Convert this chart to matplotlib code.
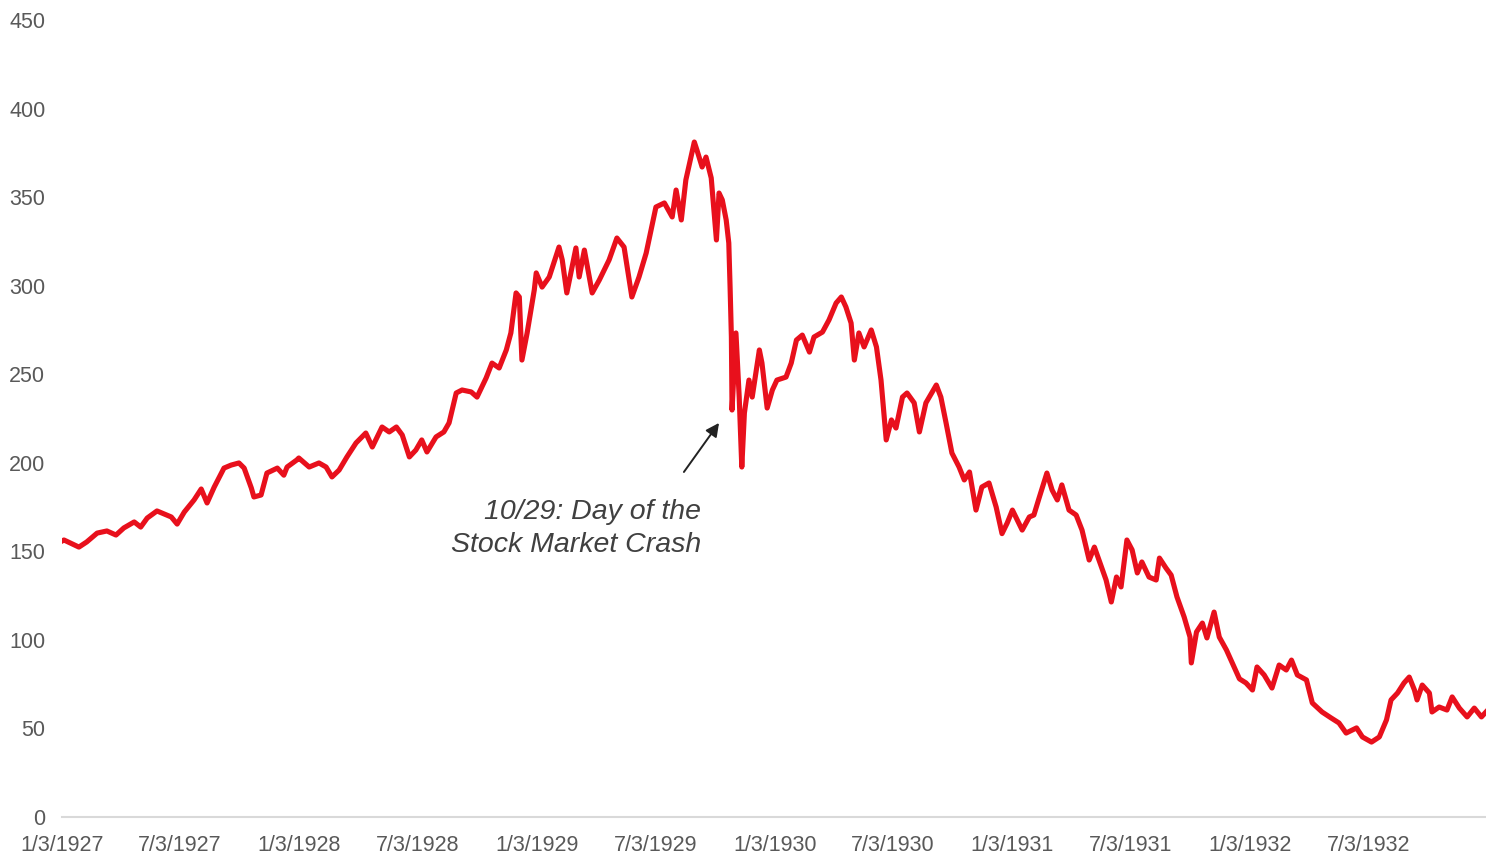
import matplotlib
matplotlib.use("Agg")
import matplotlib.pyplot as plt
import pandas as pd

dates = [
    "1927-01-03", "1927-01-06", "1927-01-29", "1927-02-10", "1927-02-26", "1927-03-13", "1927-03-27",
    "1927-04-08", "1927-04-24", "1927-05-04", "1927-05-14", "1927-05-29", "1927-06-20", "1927-06-29",
    "1927-07-10", "1927-07-25", "1927-08-05", "1927-08-14", "1927-08-25", "1927-09-09", "1927-09-20",
    "1927-10-02", "1927-10-10", "1927-10-21", "1927-10-25", "1927-11-05", "1927-11-14", "1927-11-30",
    "1927-12-10", "1927-12-15", "1927-12-30",
    "1928-01-02", "1928-01-18", "1928-02-02", "1928-02-13", "1928-02-22", "1928-03-04", "1928-03-16",
    "1928-03-30", "1928-04-14", "1928-04-24", "1928-05-09", "1928-05-20", "1928-05-31", "1928-06-09",
    "1928-06-20", "1928-06-30", "1928-07-09", "1928-07-17", "1928-07-31", "1928-08-12", "1928-08-20",
    "1928-08-31", "1928-09-09", "1928-09-23", "1928-10-02", "1928-10-16", "1928-10-25", "1928-11-05",
    "1928-11-16", "1928-11-23", "1928-12-01", "1928-12-06", "1928-12-10", "1928-12-18", "1928-12-29",
    "1929-01-01", "1929-01-10", "1929-01-21", "1929-02-05", "1929-02-10", "1929-02-17", "1929-03-03",
    "1929-03-08", "1929-03-16", "1929-03-28", "1929-04-08", "1929-04-23", "1929-05-05", "1929-05-16",
    "1929-05-28", "1929-06-08", "1929-06-19", "1929-07-04", "1929-07-17", "1929-07-29", "1929-08-04",
    "1929-08-12", "1929-08-19", "1929-09-01", "1929-09-05", "1929-09-13", "1929-09-19", "1929-09-27",
    "1929-10-05", "1929-10-09", "1929-10-14", "1929-10-20", "1929-10-24", "1929-10-26", "1929-10-28",
    "1929-10-29", "1929-11-04", "1929-11-09", "1929-11-13", "1929-11-17", "1929-11-24", "1929-11-29",
    "1929-12-10", "1929-12-14", "1929-12-22", "1929-12-30",
    "1930-01-06", "1930-01-20", "1930-01-28", "1930-02-05", "1930-02-14", "1930-02-25", "1930-03-04",
    "1930-03-17", "1930-03-27", "1930-04-07", "1930-04-15", "1930-04-22", "1930-04-30", "1930-05-05",
    "1930-05-12", "1930-05-20", "1930-05-31", "1930-06-08", "1930-06-15", "1930-06-23", "1930-07-01",
    "1930-07-08", "1930-07-18", "1930-07-25", "1930-08-05", "1930-08-13", "1930-08-23", "1930-09-08",
    "1930-09-15", "1930-09-23", "1930-10-02", "1930-10-13", "1930-10-21", "1930-10-29", "1930-11-08",
    "1930-11-17", "1930-11-28", "1930-12-09", "1930-12-18", "1930-12-26",
    "1931-01-03", "1931-01-18", "1931-01-29", "1931-02-05", "1931-02-13", "1931-02-25", "1931-03-05",
    "1931-03-13", "1931-03-20", "1931-03-31", "1931-04-11", "1931-04-20", "1931-05-01", "1931-05-09",
    "1931-05-16", "1931-05-27", "1931-06-04", "1931-06-12", "1931-06-19", "1931-06-28", "1931-07-06",
    "1931-07-14", "1931-07-21", "1931-08-01", "1931-08-12", "1931-08-17", "1931-08-27", "1931-09-04",
    "1931-09-13", "1931-09-24", "1931-10-03", "1931-10-05", "1931-10-13", "1931-10-22", "1931-10-29",
    "1931-11-09", "1931-11-17", "1931-11-28", "1931-12-07", "1931-12-18", "1931-12-28",
    "1932-01-07", "1932-01-14", "1932-01-25", "1932-02-06", "1932-02-17", "1932-02-28", "1932-03-07",
    "1932-03-16", "1932-03-30", "1932-04-08", "1932-04-23", "1932-05-07", "1932-05-19", "1932-05-30",
    "1932-06-15", "1932-06-24", "1932-07-08", "1932-07-20", "1932-07-31", "1932-08-07", "1932-08-17",
    "1932-08-27", "1932-09-04", "1932-09-12", "1932-09-16", "1932-09-24", "1932-10-05", "1932-10-09",
    "1932-10-20", "1932-11-01", "1932-11-09", "1932-11-20", "1932-12-02", "1932-12-13", "1932-12-24",
    "1932-12-31",
]

dow_close = [
    155.8, 156.4, 152.4, 155.3, 160.3, 161.5, 159.2,
    163.2, 166.6, 163.7, 168.8, 172.8, 169.4, 165.4,
    172.2, 179.0, 185.2, 177.3, 186.3, 197.0, 198.7,
    199.9, 197.0, 185.8, 180.7, 181.8, 194.2, 197.0,
    193.0, 197.6, 201.6,
    202.7, 197.6, 199.9, 197.6, 192.0, 195.9, 203.3,
    211.2, 216.8, 208.9, 220.2, 217.4, 220.2, 215.7,
    203.3, 207.2, 212.9, 206.1, 214.6, 217.4, 222.5,
    239.4, 241.1, 240.0, 237.1, 247.9, 256.3, 253.5,
    263.7, 273.3, 295.9, 293.6, 258.0, 273.3, 297.6,
    307.2, 299.2, 304.9, 321.8, 314.5, 295.9, 321.3,
    304.9, 320.1, 295.9, 303.2, 314.5, 326.9, 321.8,
    293.6, 304.9, 318.4, 344.4, 346.7, 338.8, 354.0,
    337.1, 359.7, 381.1, 376.6, 367.0, 372.6, 360.8,
    325.8, 352.3, 348.4, 337.1, 324.1, 299.2, 271.0,
    229.8, 273.3, 237.1, 197.6, 228.1, 246.7, 237.1,
    263.7, 256.3, 230.9, 241.1,
    246.7, 248.4, 256.3, 269.3, 272.1, 262.5, 271.0,
    273.8, 280.6, 290.2, 293.6, 288.0, 278.9, 258.0,
    273.3, 265.4, 275.0, 265.4, 246.7, 212.9, 224.2,
    219.6, 237.1, 239.4, 233.8, 217.4, 233.8, 243.9,
    237.1, 222.5, 205.5, 197.6, 190.3, 194.8, 173.3,
    186.3, 188.6, 175.0, 160.0, 166.0,
    173.3, 162.0, 169.4, 170.5, 180.1, 194.2, 184.6,
    179.0, 187.5, 173.3, 170.5, 162.0, 145.1, 152.4,
    145.1, 133.8, 121.4, 135.5, 129.9, 156.4, 150.8,
    137.8, 144.0, 135.5, 133.8, 146.2, 140.6, 136.6,
    124.2, 112.9, 101.6, 87.0, 104.5, 109.5, 101.1,
    115.7, 101.6, 94.3, 87.0, 78.0, 75.7,
    71.7, 84.7, 80.2, 72.8, 85.8, 83.0, 88.6,
    80.2, 77.4, 64.4, 59.3, 55.9, 53.1, 47.4,
    50.3, 45.2, 42.3, 45.2, 54.8, 66.1, 70.0,
    75.7, 79.0, 71.7, 66.1, 74.5, 70.0, 59.3,
    62.1, 60.4, 67.8, 61.5, 56.5, 61.5, 56.5,
    59.3,
]

tick_dates = ["1927-01-03", "1927-07-03", "1928-01-03", "1928-07-03", "1929-01-03", "1929-07-03",
              "1930-01-03", "1930-07-03", "1931-01-03", "1931-07-03", "1932-01-03", "1932-07-03"]
tick_labels = ["1/3/1927", "7/3/1927", "1/3/1928", "7/3/1928", "1/3/1929", "7/3/1929",
               "1/3/1930", "7/3/1930", "1/3/1931", "7/3/1931", "1/3/1932", "7/3/1932"]
y_ticks = [0, 50, 100, 150, 200, 250, 300, 350, 400, 450]

annotation_text = "10/29: Day of the\nStock Market Crash"
arrow_head = ("1929-10-09", 222.5)
arrow_tail = ("1929-08-16", 194.8)
text_anchor = ("1929-09-11", 163.0)

plt.rcParams["font.family"] = ["Liberation Sans", "DejaVu Sans"]

x = pd.to_datetime(dates)
fig = plt.figure(figsize=(14.86, 8.56), dpi=100)
ax = fig.add_axes([62 / 1486, 39 / 856, 1 - 62 / 1486, (817 - 20) / 856])

ax.plot(x, dow_close, color="#e8101c", lw=3.7, solid_joinstyle="round")

ax.set_ylim(0, 450)
ax.set_xlim(pd.Timestamp("1927-01-03"), pd.Timestamp("1932-12-31"))
ax.set_yticks(y_ticks)
ax.set_xticks(pd.to_datetime(tick_dates))
ax.set_xticklabels(tick_labels)

for s in ["top", "right", "left"]:
    ax.spines[s].set_visible(False)
ax.spines["bottom"].set_color("#d9d9d9")
ax.spines["bottom"].set_linewidth(1.5)
ax.tick_params(axis="both", length=0, labelsize=15.5, labelcolor="#595959")
ax.tick_params(axis="y", pad=12)
ax.tick_params(axis="x", pad=13)

ax.annotate("", xy=(pd.Timestamp(arrow_head[0]), arrow_head[1]),
            xytext=(pd.Timestamp(arrow_tail[0]), arrow_tail[1]),
            arrowprops=dict(arrowstyle="-|>", color="#222222", lw=1.4, mutation_scale=20,
                            shrinkA=0, shrinkB=0))
ax.text(pd.Timestamp(text_anchor[0]), text_anchor[1], annotation_text, ha="right", va="center",
        fontsize=20.5, fontstyle="italic", color="#404040", linespacing=1.35)

fig.savefig("out.png", dpi=100, facecolor="white")
